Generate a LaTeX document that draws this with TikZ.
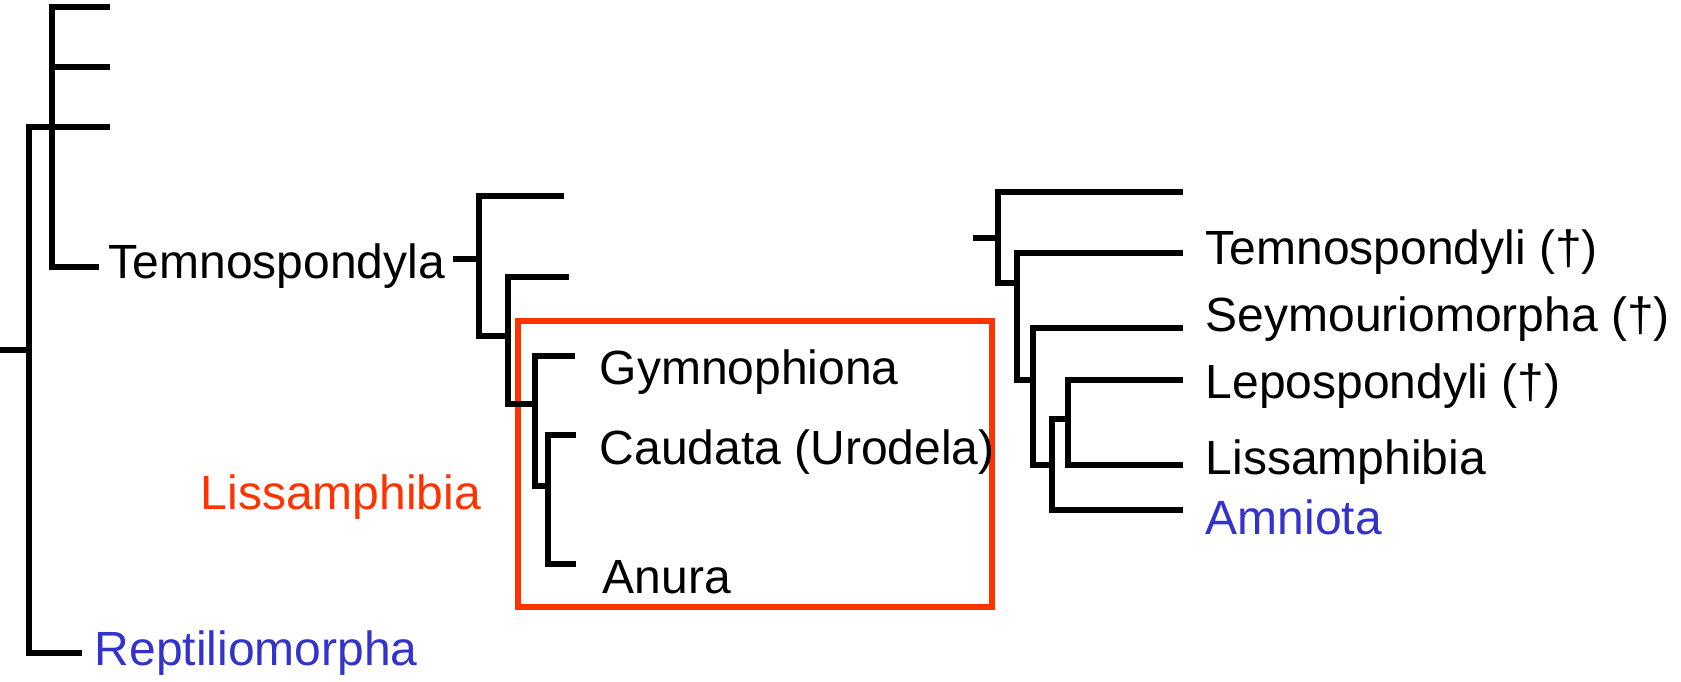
\documentclass[tikz,border=0pt]{standalone}
\usepackage{fontspec}
\setmainfont{Liberation Sans}
\definecolor{cladered}{RGB}{255,51,0}
\definecolor{cladeblue}{RGB}{51,51,204}

\begin{document}
\begin{tikzpicture}[x=1pt,y=-1pt,line width=5.5pt,
    every node/.style={anchor=base west,inner sep=0pt,font=\fontsize{48}{58}\selectfont}]
      \useasboundingbox (0,0) rectangle (1681,681);
      % box round the Lissamphibia clade
      \draw[cladered] (518,321) rectangle (992,607);
      % left tree
      \path
        (0,350) coordinate (r0)
        (29,350) coordinate (r1)
        (52,127) coordinate (r2)
        (110,7) coordinate (t1)
        (110,67) coordinate (t2)
        (110,127) coordinate (t3)
        (99,267) coordinate (t4)
        (82,653) coordinate (t5);
      \node (temno) at (106,278) {Temnospondyla};
      \node[text=cladeblue] (reptilio) at (92,665) {Reptiliomorpha};
      % middle tree
      \path
        (453,259) coordinate (m0)
        (479,259) coordinate (m1)
        (508,336) coordinate (m2)
        (535,404) coordinate (m3)
        (548,486) coordinate (m4)
        (564,196) coordinate (u1)
        (569,277) coordinate (u2)
        (575,356) coordinate (u3)
        (576,435) coordinate (u4)
        (576,564) coordinate (u5);
      \node[text=cladered] (lissred) at (198,509) {Lissamphibia};
      \node (gymno) at (597,384) {Gymnophiona};
      \node (caudata) at (597,464) {Caudata (Urodela)};
      \node (anura) at (600,593) {Anura};
      % right tree
      \path
        (973,238) coordinate (s0)
        (998,238) coordinate (n1)
        (1017,283) coordinate (n2)
        (1033,380) coordinate (n3)
        (1052,465) coordinate (n4)
        (1068,419) coordinate (n5)
        (1183,192) coordinate (v1)
        (1183,253) coordinate (v2)
        (1183,328) coordinate (v3)
        (1183,380) coordinate (v4)
        (1183,465) coordinate (v5)
        (1183,510) coordinate (v6);
      \node (temnoi) at (1203,264) {Temnospondyli (†)};
      \node (seymour) at (1203,331) {Seymouriomorpha (†)};
      \node (lepo) at (1203,398) {Lepospondyli (†)};
      \node (liss) at (1203,474) {Lissamphibia};
      \node[text=cladeblue] (amniota) at (1203,534) {Amniota};
      \begin{scope}[-]
        \draw (r0) to (r1);
        \draw (r1) |- (r2);
        \draw (r1) |- (t5);
        \draw (r2) |- (t1);
        \draw (r2) |- (t2);
        \draw (r2) |- (t3);
        \draw (r2) |- (t4);
        \draw (m0) to (m1);
        \draw (m1) |- (u1);
        \draw (m1) |- (m2);
        \draw (m2) |- (u2);
        \draw (m2) |- (m3);
        \draw (m3) |- (u3);
        \draw (m3) |- (m4);
        \draw (m4) |- (u4);
        \draw (m4) |- (u5);
        \draw (s0) to (n1);
        \draw (n1) |- (v1);
        \draw (n1) |- (n2);
        \draw (n2) |- (v2);
        \draw (n2) |- (n3);
        \draw (n3) |- (v3);
        \draw (n3) |- (n4);
        \draw (n4) |- (n5);
        \draw (n4) |- (v6);
        \draw (n5) |- (v4);
        \draw (n5) |- (v5);
      \end{scope}
    \end{tikzpicture}
\end{document}
